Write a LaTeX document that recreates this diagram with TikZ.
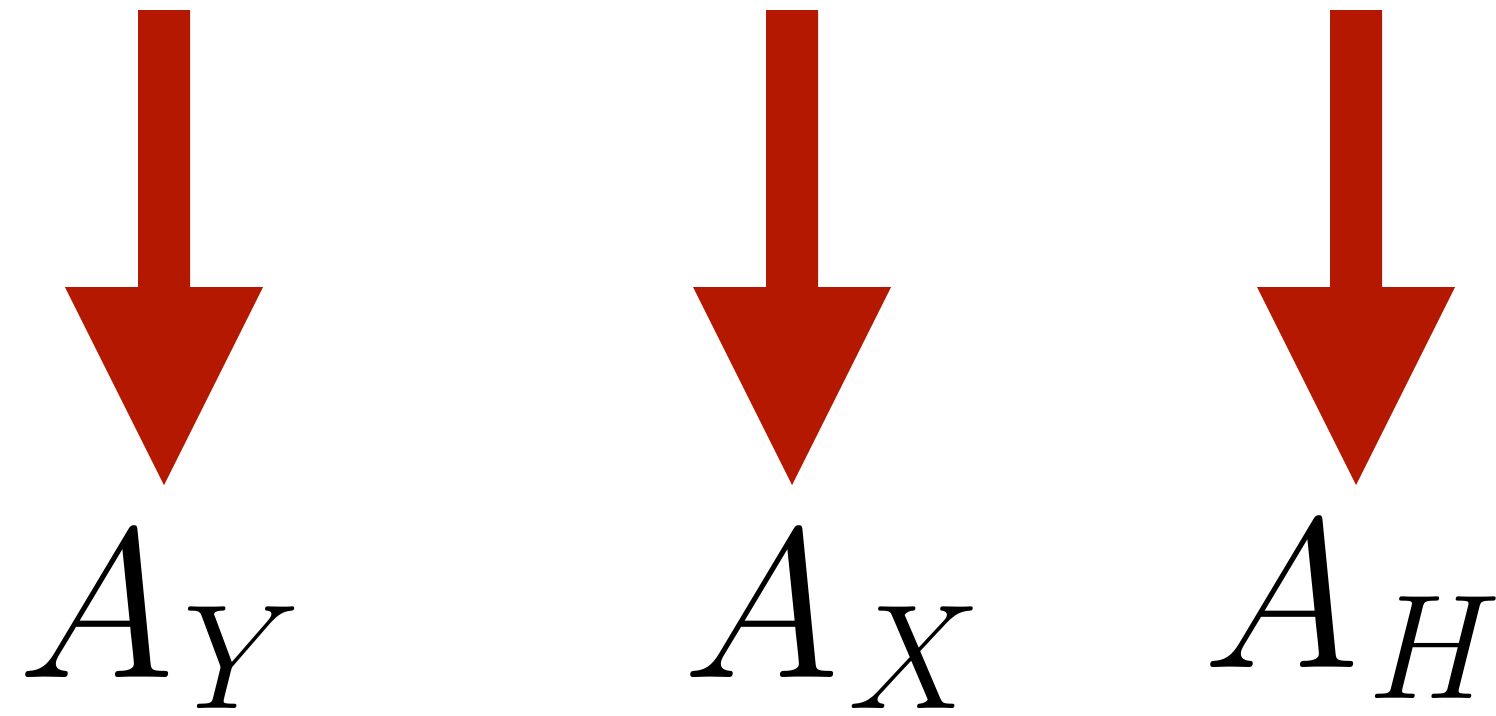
\documentclass[tikz,border=0pt]{standalone}
\usepackage{fix-cm}
\usepackage{amsmath,amssymb}
\usepackage{xcolor}
\usepackage{tikz}
\usetikzlibrary{calc}
\definecolor{forcered}{RGB}{181,24,0}
\tikzstyle{force} = [fill=forcered, draw=none]
\tikzstyle{lbl} = [inner sep=0pt, anchor=base west, font=\fontsize{60.5}{70}\selectfont]

\begin{document}
\begin{tikzpicture}
				\useasboundingbox (0,0) rectangle (14.96,-7.15);
				\coordinate (tY) at (1.64,-0.10);
				\coordinate (hY) at (1.64,-4.85);
				\coordinate (tX) at (7.92,-0.10);
				\coordinate (hX) at (7.92,-4.85);
				\coordinate (tH) at (13.56,-0.10);
				\coordinate (hH) at (13.56,-4.85);
				%%%%%%%%%%%%%%%%%%%%%%%%%%%%%%%%%%
				\foreach \v in {Y,X,H}{
					\fill[force] ($(t\v)+(-0.26,0)$) -- ($(t\v)+(0.26,0)$)
						-- ($(h\v)+(0.26,1.98)$) -- ($(h\v)+(0.99,1.98)$)
						-- (h\v) -- ($(h\v)+(-0.99,1.98)$) -- ($(h\v)+(-0.26,1.98)$) -- cycle;
				}
				%%%%%%%%%%%%%%%%%%%%%%%%%%%%%%%%%%
				\node[lbl] (AY) at (0.18,-6.77) {$A_{\mkern1mu Y}$};
				\node[lbl] (AX) at (6.83,-6.77) {$A_{\mkern1mu X}$};
				\node[lbl] (AH) at (12.03,-6.67) {$A_{\mkern1mu H}$};
			\end{tikzpicture}
\end{document}
